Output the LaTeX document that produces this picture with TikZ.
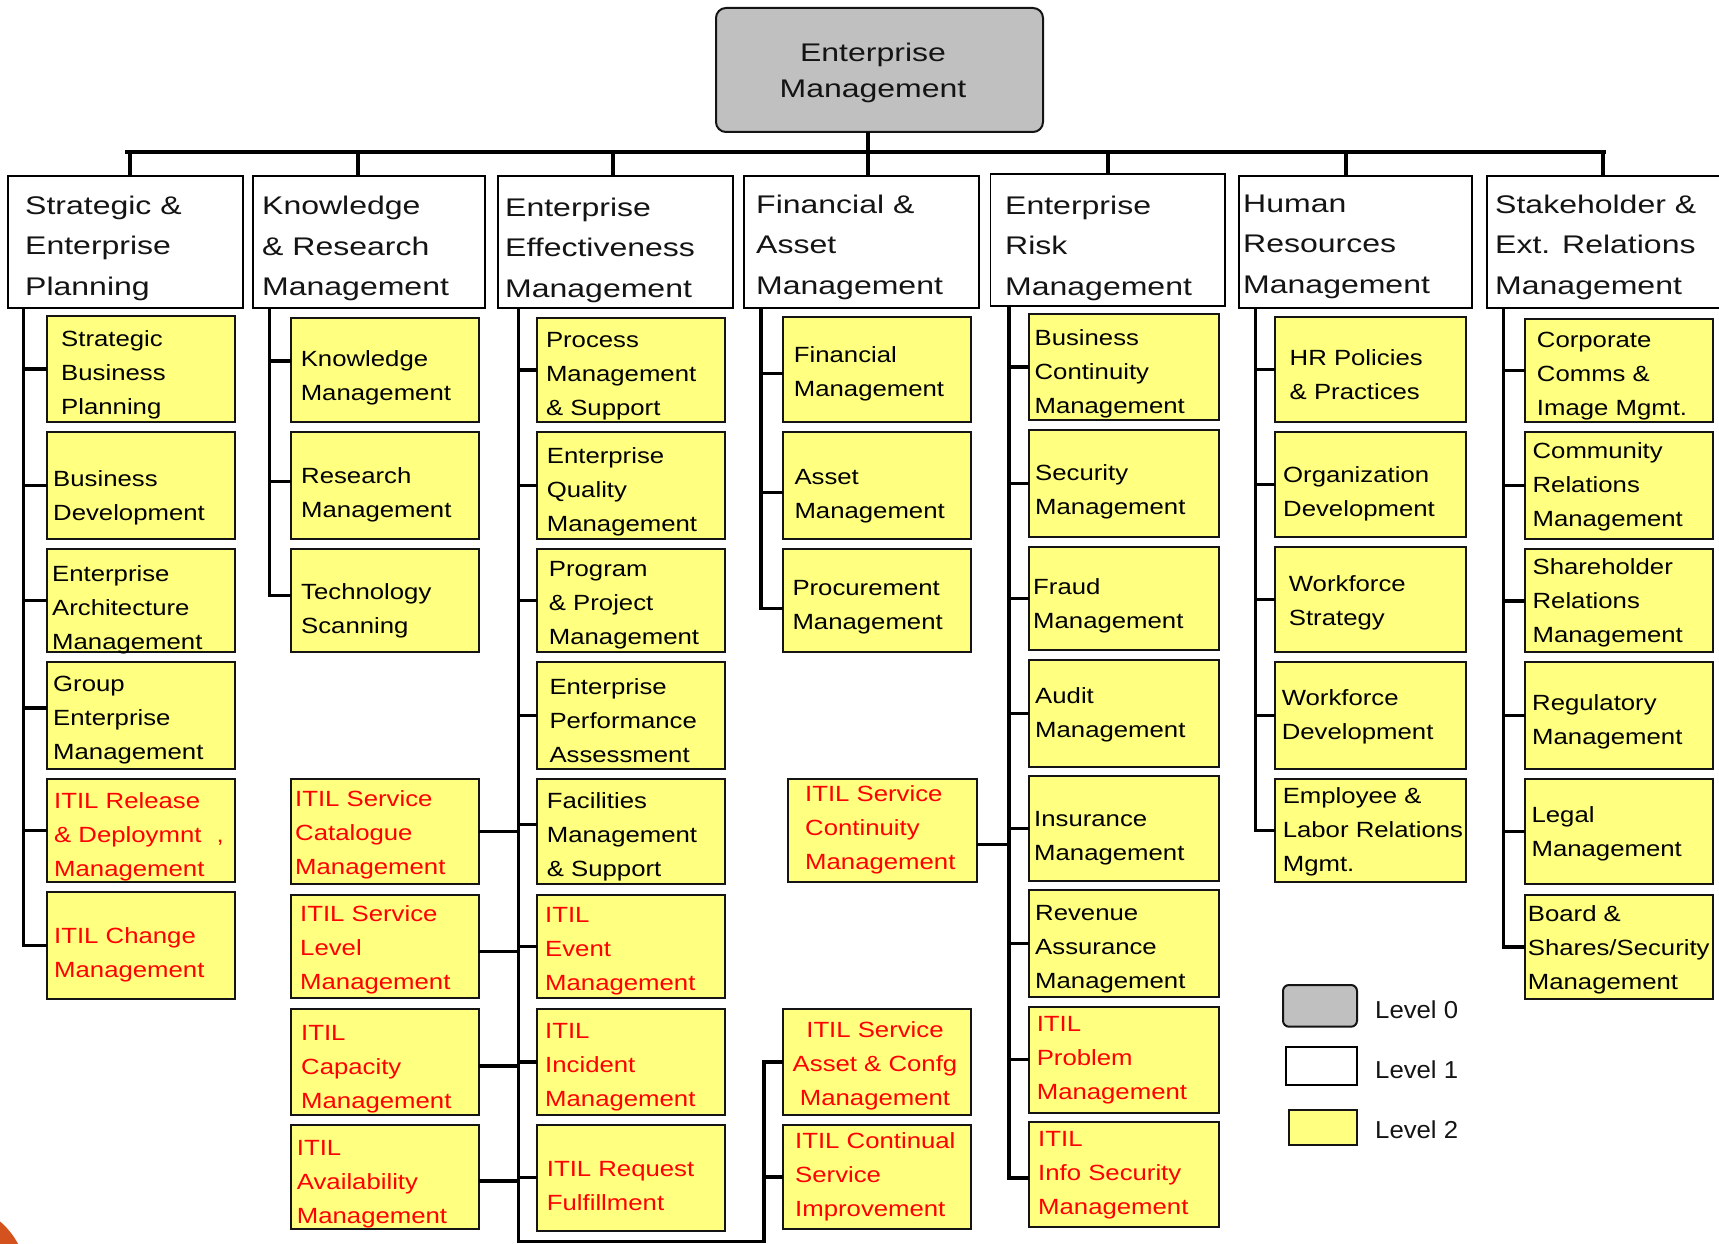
\documentclass[tikz,border=0pt]{standalone}
\usepackage{fontspec}
\setmainfont{Liberation Sans}
% wide sans faces for the three box levels and the legend
\newfontfamily\Lone[FakeStretch=1.255]{Liberation Sans}
\newfontfamily\Ltwo[FakeStretch=1.17]{Liberation Sans}
\newfontfamily\Lleg[FakeStretch=1.05]{Liberation Sans}
\newcommand\fzero{\Lone\fontsize{25.5}{36}\selectfont}
\newcommand\fone{\Lone\fontsize{25.5}{40.5}\selectfont}
\newcommand\ftwo{\Ltwo\fontsize{22}{34}\selectfont}
\newcommand\fleg{\Lleg\fontsize{24.5}{30}\selectfont}
% invisible strut: puts the first baseline 0.7 baselineskip below the node top
\newcommand\lnstrut{\vrule height 0.7\baselineskip depth 0pt width 0pt\relax}

\definecolor{boxyellow}{RGB}{255,255,128}
\definecolor{boxgray}{RGB}{192,192,192}
\definecolor{itilred}{RGB}{255,0,0}
\definecolor{inkdark}{RGB}{20,20,20}
\definecolor{cornerorange}{RGB}{211,82,30}

\tikzset{
  conn/.style={draw=black, line width=3.5pt},
  boxbase/.style={shape=rectangle, inner sep=0pt, outer sep=0pt, anchor=north west},
  lzero/.style={boxbase, draw=inkdark, line width=2pt, fill=boxgray, rounded corners=10pt},
  lone/.style={boxbase, draw=black, line width=1.8pt, fill=white},
  blk/.style={boxbase, draw=inkdark, line width=2pt, fill=boxyellow},
  itl/.style={blk},
  lzerot/.style={inner sep=0pt, align=center, anchor=north, font=\fzero, text=inkdark, yshift=25.2pt},
  lonet/.style={inner sep=0pt, align=left, anchor=north west, font=\fone, text=inkdark, yshift=28.35pt},
  blkt/.style={inner sep=0pt, align=left, anchor=north west, font=\ftwo, text=black, yshift=23.8pt},
  itlt/.style={blkt, text=itilred},
  legt/.style={inner sep=0pt, anchor=west, font=\fleg, text=inkdark},
}

% #1 kind, #2 name, #3 left, #4 top, #5 right, #6 bottom, #7 text left, #8 first baseline, #9 text
\newcommand\orgbox[9]{%
  \node[#1, minimum width={#5-#3}, minimum height={#6-#4}] (#2) at (#3,#4) {};
  \node[#1t] (#2-txt) at (#7,#8) {\lnstrut #9};
}
% branch from the west side of a box to a spine, optional vertical offset
\newcommand\tobranch[3][0]{%
  \path ([yshift=#1pt]#2.west) coordinate (#2-c);
  \draw[conn] (#2-c) -- (#2-c -| #3);
}
% branch from the east side of a box to a spine
\newcommand\eastbranch[3][0]{%
  \path ([yshift=#1pt]#2.east) coordinate (#2-c);
  \draw[conn] (#2-c) -- (#2-c -| #3);
}

\begin{document}
\begin{tikzpicture}[x=1pt,y=-1pt]
\useasboundingbox (0,0) rectangle (1719,1244);
\clip (0,0) rectangle (1719,1244);
\fill[white] (0,0) rectangle (1719,1244);
\fill[cornerorange] (-50,1280) circle[radius=77pt];

% ---- level 0 ----
\orgbox{lzero}{root}{716}{8}{1043}{132}{873}{61.7}{Enterprise\\Management}

% ---- level 1 ----
\orgbox{lone}{L1}{8}{176}{243}{308}{25}{214}{Strategic \&\\Enterprise\\Planning}
\orgbox{lone}{L2}{252.7}{176}{485}{308}{262}{214.3}{Knowledge\\\& Research\\Management}
\orgbox{lone}{L3}{498}{176}{733}{308}{505}{216}{Enterprise\\Effectiveness\\Management}
\orgbox{lone}{L4}{744}{176}{979}{308}{756}{213}{Financial \&\\Asset\\Management}
\orgbox{lone}{L5}{990.5}{174}{1225}{306}{1005}{214}{Enterprise\\Risk\\Management}
\orgbox{lone}{L6}{1239}{176}{1471.6}{308}{1243}{212}{Human\\Resources\\Management}
\orgbox{lone}{L7}{1487}{176}{1740}{308}{1495}{213}{Stakeholder \&\\Ext. Relations\\Management}

% ---- level 2: strategic & enterprise planning ----
\orgbox{blk}{c1a}{46.7}{316}{235.3}{422}{61}{346}{Strategic\\Business\\Planning}
\orgbox{blk}{c1b}{46.7}{432.3}{235.3}{538.7}{53}{486.7}{Business\\Development}
\orgbox{blk}{c1c}{46.7}{548.7}{235.3}{652}{52}{581}{Enterprise\\Architecture\\Management}
\orgbox{blk}{c1d}{46.7}{662.3}{235.3}{768.7}{53}{691}{Group\\Enterprise\\Management}
\orgbox{itl}{c1e}{46.7}{778.7}{235.3}{882.3}{54}{808}{ITIL Release\\\& Deploymnt\hspace{15pt},\\Management}
\orgbox{itl}{c1f}{46.7}{892.3}{235.3}{998.7}{54}{943}{ITIL Change\\Management}

% ---- knowledge & research ----
\orgbox{blk}{c2a}{290.7}{318.3}{479.3}{422}{300.6}{366.5}{Knowledge\\Management}
\orgbox{blk}{c2b}{290.7}{432.3}{479.3}{539}{301}{483.5}{Research\\Management}
\orgbox{blk}{c2c}{290.7}{548.7}{479.3}{652.3}{301}{599}{Technology\\Scanning}
\orgbox{itl}{c2d}{290.7}{778.7}{479.3}{884}{295}{806}{ITIL Service\\Catalogue\\Management}
\orgbox{itl}{c2e}{290.7}{895}{479.3}{998.3}{300}{921}{ITIL Service\\Level\\Management}
\orgbox{itl}{c2f}{290.7}{1009}{479.3}{1114.7}{301}{1040.5}{ITIL\\Capacity\\Management}
\orgbox{itl}{c2g}{290.7}{1124.7}{479.3}{1229}{296.7}{1155}{ITIL\\Availability\\Management}

% ---- enterprise effectiveness ----
\orgbox{blk}{c3a}{536.7}{318.3}{725}{422}{545.8}{347}{Process\\Management\\\& Support}
\orgbox{blk}{c3b}{536.7}{432.3}{725}{538.7}{546.7}{463.3}{Enterprise\\Quality\\Management}
\orgbox{blk}{c3c}{536.7}{548.7}{725}{652.3}{548.7}{576}{Program\\\& Project\\Management}
\orgbox{blk}{c3d}{536.7}{662.3}{725}{768.7}{549.3}{694}{Enterprise\\Performance\\Assessment}
\orgbox{blk}{c3e}{536.7}{778.7}{725}{884}{546.7}{808}{Facilities\\Management\\\& Support}
\orgbox{itl}{c3f}{536.7}{895}{725}{998.3}{545}{922}{ITIL\\Event\\Management}
\orgbox{itl}{c3g}{536.7}{1009}{725}{1114.7}{545}{1038}{ITIL\\Incident\\Management}
\orgbox{itl}{c3h}{536.7}{1124.7}{725}{1230.7}{546.7}{1176.5}{ITIL Request\\Fulfillment}

% ---- financial & asset ----
\orgbox{blk}{c4a}{782.7}{316.7}{971.3}{422}{793.7}{362}{Financial\\Management}
\orgbox{blk}{c4b}{782.7}{432.3}{971.3}{538.7}{794.3}{484}{Asset\\Management}
\orgbox{blk}{c4c}{782.7}{548.7}{971.3}{652.3}{792.3}{595.5}{Procurement\\Management}
\orgbox{itl}{c4d}{788.3}{778.7}{977.3}{882.3}{805}{801.5}{ITIL Service\\Continuity\\Management}
\node[itl, minimum width={971.3-782.7}, minimum height={1114.7-1009}] (c4e) at (782.7,1009) {};
\node[itlt, align=center, anchor=north] (c4e-txt) at (875,1037) {\lnstrut ITIL Service\\Asset \& Confg\\Management};
\orgbox{itl}{c4f}{782.7}{1124.7}{971.3}{1229}{795}{1148}{ITIL Continual\\Service\\Improvement}

% ---- enterprise risk ----
\orgbox{blk}{c5a}{1028.5}{314.3}{1219}{420}{1034.4}{345}{Business\\Continuity\\Management}
\orgbox{blk}{c5b}{1028.5}{430.3}{1219}{536.7}{1035}{480}{Security\\Management}
\orgbox{blk}{c5c}{1028.5}{546.7}{1219}{650}{1033}{594}{Fraud\\Management}
\orgbox{blk}{c5d}{1028.5}{660}{1219}{766.7}{1035}{703}{Audit\\Management}
\orgbox{blk}{c5e}{1028.5}{776}{1219}{880.7}{1034}{826}{Insurance\\Management}
\orgbox{blk}{c5f}{1028.5}{890}{1219}{996.7}{1035}{920.5}{Revenue\\Assurance\\Management}
\orgbox{itl}{c5g}{1028.5}{1006.7}{1219}{1112.7}{1036.6}{1031.5}{ITIL\\Problem\\Management}
\orgbox{itl}{c5h}{1028.5}{1122.3}{1219}{1227.3}{1038}{1146.5}{ITIL\\Info Security\\Management}

% ---- human resources ----
\orgbox{blk}{c6a}{1274.6}{316.7}{1465.5}{422}{1289.5}{365}{HR Policies\\\& Practices}
\orgbox{blk}{c6b}{1274.6}{432.3}{1465.5}{536.7}{1283}{482}{Organization\\Development}
\orgbox{blk}{c6c}{1274.6}{546.7}{1465.5}{652.3}{1288.7}{591.5}{Workforce\\Strategy}
\orgbox{blk}{c6d}{1274.6}{662.3}{1465.5}{768.7}{1281.6}{705}{Workforce\\Development}
\orgbox{blk}{c6e}{1274.6}{778.7}{1465.5}{882.3}{1282.6}{803.3}{Employee \&\\Labor Relations\\Mgmt.}

% ---- stakeholder & external relations ----
\orgbox{blk}{c7a}{1525}{318.5}{1712.5}{422}{1536.7}{347}{Corporate\\Comms \&\\Image Mgmt.}
\orgbox{blk}{c7b}{1525}{432.3}{1712.5}{538.7}{1532.4}{458}{Community\\Relations\\Management}
\orgbox{blk}{c7c}{1525}{549.3}{1712.5}{652.3}{1532.4}{574}{Shareholder\\Relations\\Management}
\orgbox{blk}{c7d}{1525}{662.3}{1712.5}{768.7}{1532}{710}{Regulatory\\Management}
\orgbox{blk}{c7e}{1525}{778.7}{1712.5}{884}{1531.4}{822}{Legal\\Management}
\orgbox{blk}{c7f}{1525}{895}{1712.5}{998.7}{1527.7}{921}{Board \&\\Shares/Security\\Management}

% ---- legend ----
\node[lzero, rounded corners=6pt, minimum width=74, minimum height=41.7] (leg0) at (1283,985) {};
\node[lone, line width=2pt, minimum width=71, minimum height=38.3] (leg1) at (1286,1046.7) {};
\node[blk, minimum width=68.3, minimum height=35] (leg2) at (1288.7,1110) {};
\node[legt] (leg0-txt) at (1375,1010) {Level 0};
\node[legt] (leg1-txt) at (1375,1070) {Level 1};
\node[legt] (leg2-txt) at (1375,1130) {Level 2};

% ---- top bus ----
\coordinate (busL) at (125,151.7);
\coordinate (busR) at (1606,151.7);
\coordinate (d1) at (130,151.7);
\coordinate (d2) at (358,151.7);
\coordinate (d3) at (613,151.7);
\coordinate (d4) at (868,151.7);
\coordinate (d5) at (1108,151.7);
\coordinate (d6) at (1346,151.7);
\coordinate (d7) at (1603,151.7);
\draw[conn, line width=4pt] (busL) -- (busR);
\draw[conn] (root.south -| d4) -- (L4.north -| d4);
\foreach \i in {1,2,3,5,6,7} \draw[conn] (d\i) -- (L\i.north -| d\i);

% ---- column spines ----
\coordinate (S1) at (23.3,0);
\coordinate (S2) at (269.3,0);
\coordinate (S3) at (518.3,0);
\coordinate (S4) at (761,0);
\coordinate (S4b) at (764,0);
\coordinate (S5) at (1009.2,0);
\coordinate (S6) at (1255.7,0);
\coordinate (S7) at (1503.3,0);
\coordinate (Sbot) at (0,1241.7);

% column 1
\tobranch{c1a}{S1} \tobranch{c1b}{S1} \tobranch{c1c}{S1}
\tobranch[7.5]{c1d}{S1} \tobranch{c1e}{S1} \tobranch{c1f}{S1}
\draw[conn] (S1 |- L1.south) |- (c1f-c);

% column 2
\tobranch[9]{c2a}{S2} \tobranch[4]{c2b}{S2} \tobranch[5]{c2c}{S2}
\draw[conn] (S2 |- L2.south) |- (c2c-c);
\eastbranch{c2d}{S3} \eastbranch[-5]{c2e}{S3}
\eastbranch[-4]{c2f}{S3} \eastbranch[-4]{c2g}{S3}

% column 3, running on to the two lower ITIL boxes
\tobranch{c3a}{S3} \tobranch{c3b}{S3} \tobranch{c3c}{S3} \tobranch{c3d}{S3}
\tobranch[7]{c3e}{S3} \tobranch{c3f}{S3} \tobranch{c3g}{S3} \tobranch{c3h}{S3}
\tobranch{c4e}{S4b} \tobranch{c4f}{S4b}
\draw[conn] (S3 |- L3.south) -- (S3 |- Sbot) -- (S4b |- Sbot) |- (c4e-c);

% column 4
\tobranch[-4]{c4a}{S4} \tobranch[-7]{c4b}{S4} \tobranch[-8]{c4c}{S4}
\draw[conn] (S4 |- L4.south) |- (c4c-c);
\eastbranch[-13.8]{c4d}{S5}

% column 5
\tobranch{c5a}{S5} \tobranch{c5b}{S5} \tobranch{c5c}{S5} \tobranch{c5d}{S5}
\tobranch{c5e}{S5} \tobranch{c5f}{S5} \tobranch{c5g}{S5} \tobranch[-3]{c5h}{S5}
\draw[conn] (S5 |- L5.south) |- (c5h-c);

% column 6
\tobranch{c6a}{S6} \tobranch{c6b}{S6} \tobranch{c6c}{S6} \tobranch{c6d}{S6} \tobranch{c6e}{S6}
\draw[conn] (S6 |- L6.south) |- (c6e-c);

% column 7
\tobranch{c7a}{S7} \tobranch{c7b}{S7} \tobranch{c7c}{S7}
\tobranch{c7d}{S7} \tobranch{c7e}{S7} \tobranch{c7f}{S7}
\draw[conn] (S7 |- L7.south) |- (c7f-c);
\end{tikzpicture}
\end{document}
